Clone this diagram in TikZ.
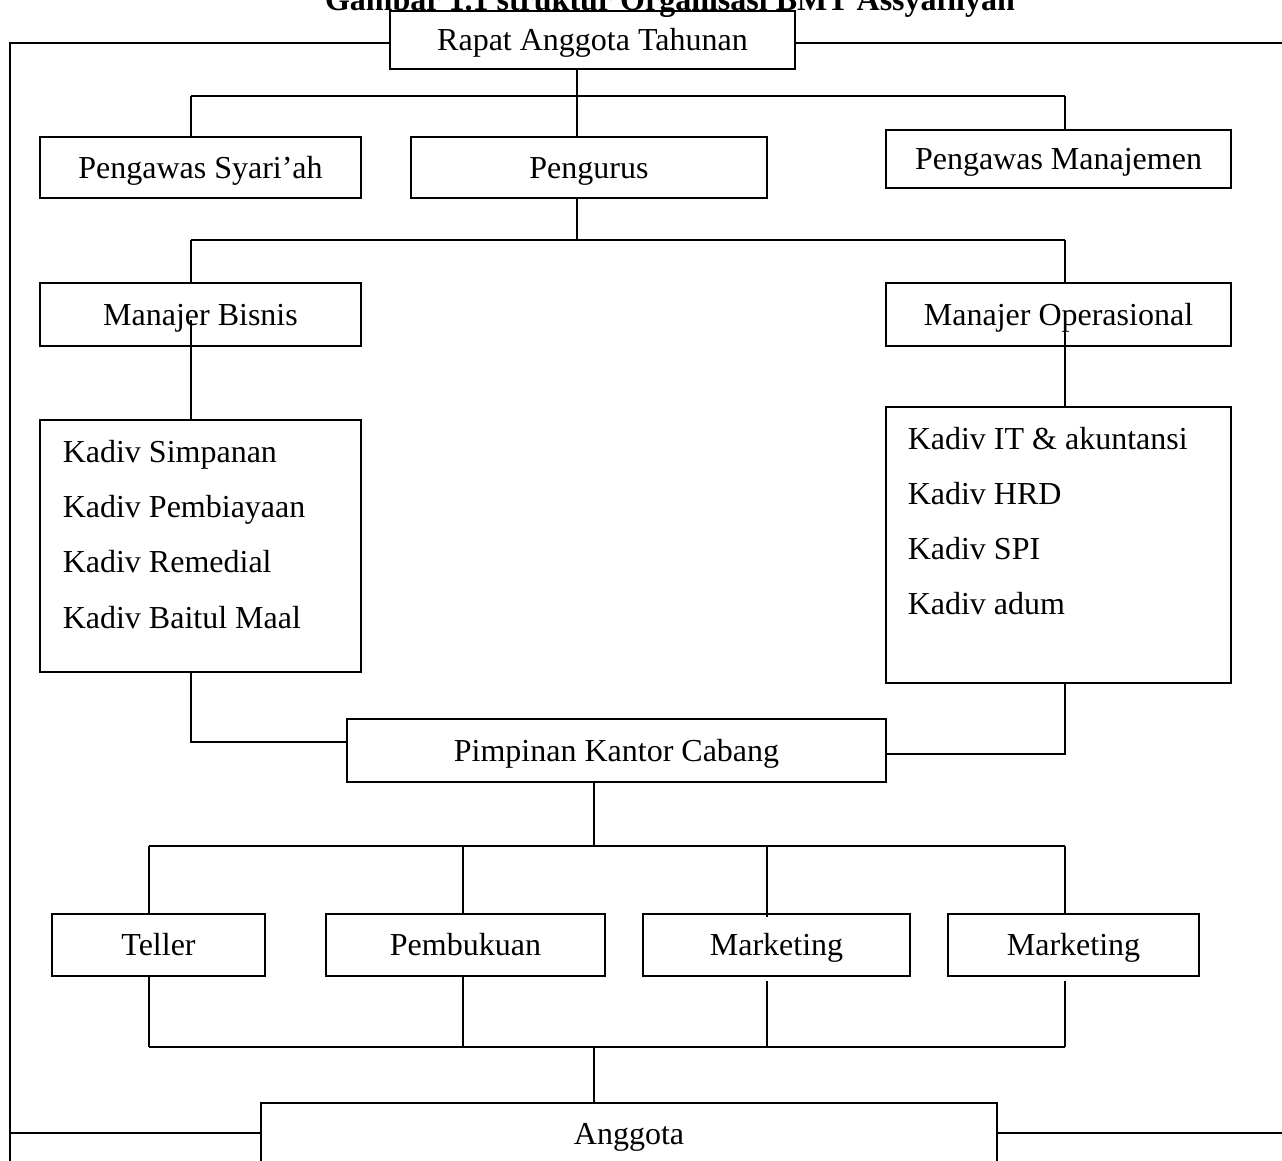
\documentclass[tikz,border=0pt]{standalone}
\usepackage{fontspec}
\setmainfont{Liberation Serif}
\begin{document}
\begin{tikzpicture}[x=1pt,y=-1pt,line width=1.5pt,
  box/.style={draw,rectangle,inner sep=0pt,text height=21pt,text depth=0pt,font=\fontsize{32}{38}\selectfont},
  txt/.style={inner sep=0pt,font=\fontsize{32}{38}\selectfont,anchor=base west}]
\useasboundingbox (0,0) rectangle (1282,1160);
% title (cut off at the top)
\node[anchor=base,inner sep=0pt,font=\bfseries\fontsize{32}{38}\selectfont] (title) at (670,10) {Gambar 1.1 struktur Organisasi BMT Assyafiiyah};
% boxes
\node[box,minimum width=405,minimum height=58] (rat) at (592.5,40) {Rapat Anggota Tahunan};
\node[box,minimum width=321,minimum height=61] (ps) at (200.5,167.5) {Pengawas Syari’ah};
\node[box,minimum width=356,minimum height=61] (pg) at (589,167.5) {Pengurus};
\node[box,minimum width=345,minimum height=58] (pm) at (1058.5,159) {Pengawas Manajemen};
\node[box,minimum width=321,minimum height=63] (mb) at (200.5,314.5) {Manajer Bisnis};
\node[box,minimum width=345,minimum height=63] (mo) at (1058.5,314.5) {Manajer Operasional};
\node[box,minimum width=321,minimum height=252] (kl) at (200.5,546) {};
\node[box,minimum width=345,minimum height=276] (kr) at (1058.5,545) {};
\node[txt] (kl1) at (62,462) {Kadiv Simpanan};
\node[txt] (kl2) at (62,517) {Kadiv Pembiayaan};
\node[txt] (kl3) at (62,572) {Kadiv Remedial};
\node[txt] (kl4) at (62,628) {Kadiv Baitul Maal};
\node[txt] (kr1) at (907,449) {Kadiv IT \& akuntansi};
\node[txt] (kr2) at (907,504) {Kadiv HRD};
\node[txt] (kr3) at (907,559) {Kadiv SPI};
\node[txt] (kr4) at (907,614) {Kadiv adum};
\node[box,minimum width=539,minimum height=63] (pkc) at (616.5,750.5) {Pimpinan Kantor Cabang};
\node[box,minimum width=213,minimum height=62] (te) at (158.5,945) {Teller};
\node[box,minimum width=279,minimum height=62] (pb) at (465.5,945) {Pembukuan};
\node[box,minimum width=267,minimum height=62] (m1) at (776.5,945) {Marketing};
\node[box,minimum width=251,minimum height=62] (m2) at (1073.5,945) {Marketing};
\node[box,minimum width=736,minimum height=62] (ang) at (629,1134) {Anggota};
% coordinates
\coordinate (lt) at (10,43);
\coordinate (lb) at (10,1175);
\coordinate (rt) at (1295,43);
\coordinate (la) at (10,1133);
\coordinate (ra) at (1295,1133);
\coordinate (b1l) at (191,96);
\coordinate (b1c) at (577,96);
\coordinate (b1r) at (1065,96);
\coordinate (b2l) at (191,240);
\coordinate (b2c) at (577,240);
\coordinate (b2r) at (1065,240);
\coordinate (mbin) at (191,320);
\coordinate (moin) at (1065,330);
\coordinate (pl) at (191,742);
\coordinate (pr) at (1065,754);
\coordinate (b3l) at (149,846);
\coordinate (b3a) at (463,846);
\coordinate (b3c) at (594,846);
\coordinate (b3b) at (767,846);
\coordinate (b3r) at (1065,846);
\coordinate (b4l) at (149,1047);
\coordinate (b4a) at (463,1047);
\coordinate (b4c) at (594,1047);
\coordinate (b4b) at (767,1047);
\coordinate (b4r) at (1065,1047);
% outer frame lines
\draw (rat.west |- lt) -- (lt) -- (lb);
\draw (rat.east |- rt) -- (rt);
\draw (ang.west |- la) -- (la);
\draw (ang.east |- ra) -- (ra);
% level 1
\draw (rat.south -| b1c) -- (b1c);
\draw (b1l) -- (b1r);
\draw (b1l) -- (b1l |- ps.north);
\draw (b1c) -- (b1c |- pg.north);
\draw (b1r) -- (b1r |- pm.north);
% level 2
\draw (pg.south -| b2c) -- (b2c);
\draw (b2l) -- (b2r);
\draw (b2l) -- (b2l |- mb.north);
\draw (b2r) -- (b2r |- mo.north);
% managers to kadiv
\draw (mbin) -- (mbin |- kl.north);
\draw (moin) -- (moin |- kr.north);
% kadiv to pimpinan
\draw (kl.south -| pl) -- (pl) -- (pkc.west |- pl);
\draw (kr.south -| pr) -- (pr) -- (pkc.east |- pr);
% pimpinan to staff
\draw (pkc.south -| b3c) -- (b3c);
\draw (b3l) -- (b3r);
\draw (b3l) -- (b3l |- te.north);
\draw (b3a) -- (b3a |- pb.north);
\draw (b3b) -- ([yshift=-4pt]b3b |- m1.north);
\draw (b3r) -- (b3r |- m2.north);
% staff to anggota
\draw (te.south -| b4l) -- (b4l);
\draw (pb.south -| b4a) -- (b4a);
\draw ([yshift=-4pt]m1.south -| b4b) -- (b4b);
\draw ([yshift=-4pt]m2.south -| b4r) -- (b4r);
\draw (b4l) -- (b4r);
\draw (b4c) -- (b4c |- ang.north);
\end{tikzpicture}
\end{document}
